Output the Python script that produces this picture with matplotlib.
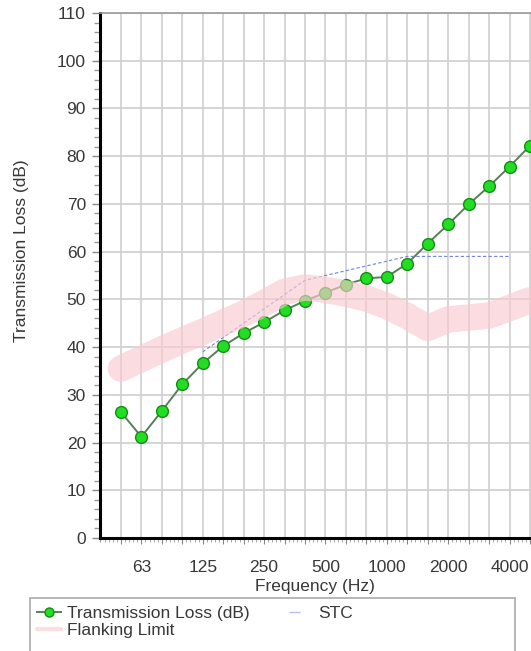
import numpy as np
import matplotlib.pyplot as plt
from matplotlib.ticker import MultipleLocator
from matplotlib.patches import Rectangle

plt.rcParams['font.family'] = ['Liberation Sans', 'DejaVu Sans']

# bandas de tercio de octava
freqs = ['50', '63', '80', '100', '125', '160', '200', '250', '315', '400', '500',
         '630', '800', '1000', '1250', '1600', '2000', '2500', '3150', '4000', '5000']
tick_labels = ['63', '125', '250', '500', '1000', '2000', '4000']

tl = [26.4, 21.2, 26.6, 32.2, 36.6, 40.2, 42.9, 45.2, 47.7, 49.7, 51.4,
      53.1, 54.4, 54.7, 57.5, 61.7, 65.7, 69.9, 73.7, 77.8, 82.2]

stc_freqs = ['125', '160', '200', '250', '315', '400', '500', '630', '800',
             '1000', '1250', '1600', '2000', '2500', '3150', '4000']
stc = [39, 42, 45, 48, 51, 54, 55, 56, 57, 58, 59, 59, 59, 59, 59, 59]

flank = [35.5, 37.5, 39.5, 41.4, 43.2, 45.1, 47.0, 49.2, 51.6, 52.5, 52.0,
         51.2, 50.2, 48.6, 46.5, 44.0, 45.8, 46.2, 46.6, 48.2, 49.8]

x = np.arange(len(freqs))
x_stc = np.array([freqs.index(f) for f in stc_freqs])

txt = '#383838'
fs = 12.5

fig = plt.figure(figsize=(5.31, 6.51), dpi=100)
ax = fig.add_axes([0.188, 0.1736, 0.812, 0.8064])

ax.plot(x, tl, color='#587f58', lw=1.4, marker='o', markersize=8.5,
        markerfacecolor='#22dd22', markeredgecolor='#158c15', markeredgewidth=1,
        zorder=3, label='Transmission Loss (dB)')
ax.plot(x_stc, stc, color='#7384dc', lw=0.8, ls=(0, (3, 2)),
        zorder=4, label='STC')
ax.plot(x, flank, color='#f9cbd0', lw=19, alpha=0.66,
        solid_capstyle='round', solid_joinstyle='round',
        zorder=5, label='Flanking Limit')

ax.set_xlim(-1.03, 20.05)
ax.set_ylim(0, 110)

ax.set_xticks(x)
ax.set_xticklabels([f if f in tick_labels else '' for f in freqs], fontsize=fs, color=txt)
ax.xaxis.set_minor_locator(MultipleLocator(0.2))
ax.tick_params(axis='x', which='major', length=4, width=0.8, color='#888888', pad=12)
ax.tick_params(axis='x', which='minor', length=3, width=0.6, color='#999999')

ax.yaxis.set_major_locator(MultipleLocator(10))
ax.yaxis.set_minor_locator(MultipleLocator(2))
ax.tick_params(axis='y', which='major', length=6, width=1, color='#888888', labelsize=fs,
               labelcolor=txt, pad=4)
ax.tick_params(axis='y', which='minor', length=4, width=1, color='#999999')

ax.grid(True, which='major', color='#d2d2d2', lw=1.3, zorder=0)
ax.set_axisbelow(True)

ax.spines['left'].set_linewidth(2.2)
ax.spines['bottom'].set_linewidth(2.2)
ax.spines['top'].set_color('#999999')
ax.spines['top'].set_linewidth(1.2)
ax.spines['right'].set_color('#bbbbbb')

ax.set_xlabel('Frequency (Hz)', fontsize=fs, color=txt, labelpad=3)
ax.set_ylabel('Transmission Loss (dB)', fontsize=fs, color=txt)
ax.yaxis.set_label_coords(-0.165, 0.548)

# marco de la leyenda (se sale por abajo como en el original)
fig.patches.append(Rectangle((30 / 531, -0.02), 485 / 531, 0.02 + 53 / 651,
                             transform=fig.transFigure, facecolor='white',
                             edgecolor='#aaaaaa', lw=1.2, zorder=1))

h, l = ax.get_legend_handles_labels()
leg = fig.legend([h[0], h[2], h[1]], [l[0], l[2], l[1]], ncol=2,
                 loc='upper left', bbox_to_anchor=(37 / 531, 1 - 606 / 651),
                 fontsize=fs, frameon=False, borderpad=0, labelspacing=0.1,
                 handlelength=1.4, handletextpad=0.3, columnspacing=2.3,
                 borderaxespad=0, labelcolor=txt)
leg.legend_handles[0].set_markersize(6.5)
leg.legend_handles[1].set_linewidth(3)
leg.legend_handles[1].set_alpha(0.6)
leg.legend_handles[2].set_linestyle((0, (8, 40)))
leg.legend_handles[2].set_alpha(0.5)
leg.legend_handles[2].set_linewidth(1)

fig.savefig('out.png', dpi=100)
